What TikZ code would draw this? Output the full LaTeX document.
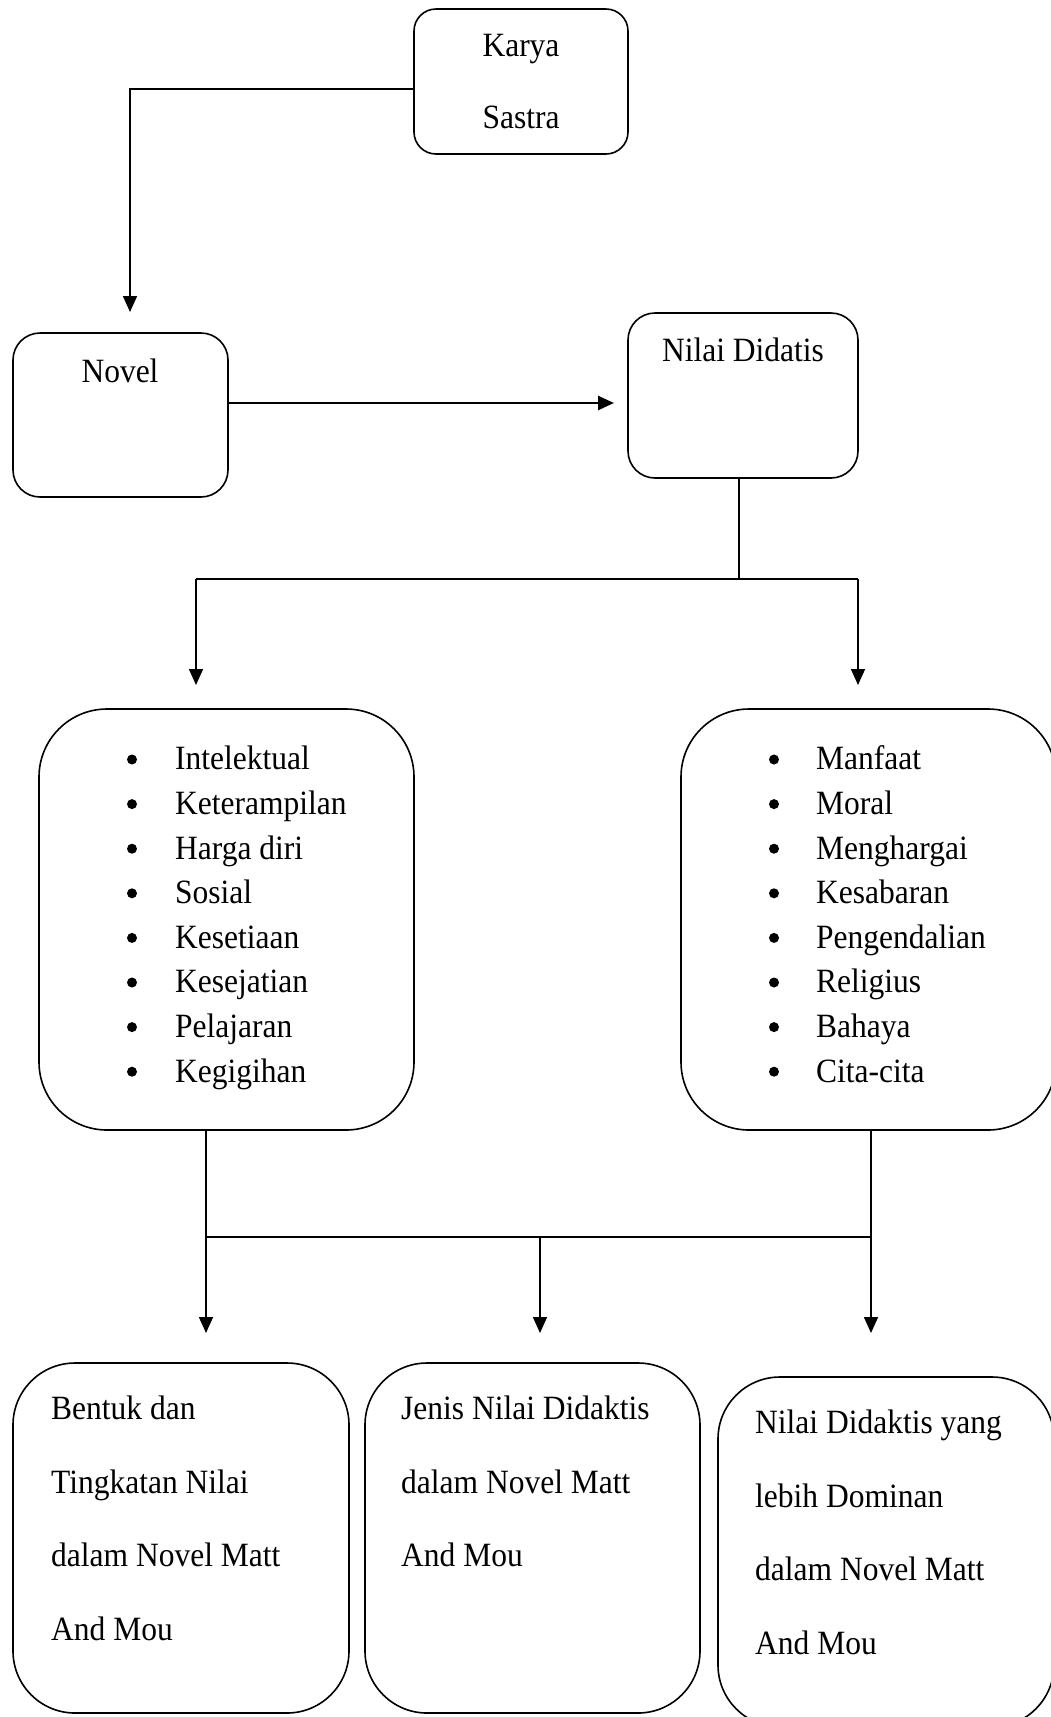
\documentclass[tikz,border=0pt]{standalone}
\usepackage{fontspec}
\setmainfont{Liberation Serif}
\usetikzlibrary{arrows.meta}
\begin{document}
\begin{tikzpicture}[x=1pt,y=-1pt,
  box/.style={draw,line width=1.6pt,rounded corners=#1,inner sep=0pt},
  box/.default=22pt,
  txt/.style={font=\fontsize{31.5}{38}\selectfont,inner sep=0pt,yscale=1.08},
  bul/.style={circle,fill,inner sep=0pt,minimum size=10pt},
  ln/.style={line width=1.6pt},
  thick ln/.style={line width=2.6pt},
  arr/.style={-{Triangle[length=16pt,width=14pt]}}]
\useasboundingbox (0,0) rectangle (1051,1717);
% boxes
\node[box=22pt,minimum width=214pt,minimum height=145pt] (karya) at (521,81.5) {};
\node[box=27pt,minimum width=215pt,minimum height=164pt] (novel) at (120.5,415) {};
\node[box=27pt,minimum width=230pt,minimum height=165pt] (nilai) at (743,395.5) {};
\node[box=68pt,minimum width=375pt,minimum height=421pt] (listL) at (226.5,919.5) {};
\node[box=68pt,minimum width=375pt,minimum height=421pt] (listR) at (868.5,919.5) {};
\node[box=62pt,minimum width=336pt,minimum height=350pt] (b1) at (181,1538) {};
\node[box=62pt,minimum width=335pt,minimum height=350pt] (b2) at (532.5,1538) {};
\node[box=62pt,minimum width=336pt,minimum height=350pt] (b3) at (886,1552) {};
% texts
\node[txt,anchor=mid] (tk1) at (521,54.5) {Karya};
\node[txt,anchor=mid] (tk2) at (521,126.5) {Sastra};
\node[txt,anchor=mid] (tnov) at (120,380.5) {Novel};
\node[txt,anchor=mid] (tnil) at (743,359.5) {Nilai Didatis};
\foreach \t [count=\i] in {Intelektual,Keterampilan,Harga diri,Sosial,Kesetiaan,Kesejatian,Pelajaran,Kegigihan}{
  \node[bul] (bl\i) at (132,{759.5+44.6*(\i-1)}) {};
  \node[txt,anchor=mid west] (il\i) at (175,{767.5+44.6*(\i-1)}) {\t};
}
\foreach \t [count=\i] in {Manfaat,Moral,Menghargai,Kesabaran,Pengendalian,Religius,Bahaya,Cita-cita}{
  \node[bul] (br\i) at (774,{759.5+44.6*(\i-1)}) {};
  \node[txt,anchor=mid west] (ir\i) at (816,{767.5+44.6*(\i-1)}) {\t};
}
\foreach \t [count=\i] in {Bentuk dan,Tingkatan Nilai,dalam Novel Matt,And Mou}{
  \node[txt,anchor=mid west] (p\i) at (51,{1417.5+73.4*(\i-1)}) {\t};
}
\foreach \t [count=\i] in {Jenis Nilai Didaktis,dalam Novel Matt,And Mou}{
  \node[txt,anchor=mid west] (q\i) at (401,{1417.5+73.4*(\i-1)}) {\t};
}
\foreach \t [count=\i] in {Nilai Didaktis yang,lebih Dominan,dalam Novel Matt,And Mou}{
  \node[txt,anchor=mid west] (r\i) at (755,{1431.5+73.4*(\i-1)}) {\t};
}
% connector coordinates
\coordinate (kout) at (karya.west |- 0,89);
\coordinate (novtip) at (130,312);
\coordinate (nout) at (novel.east |- 0,403);
\coordinate (niltip) at (614,403);
\coordinate (nbot) at (739,0 |- nilai.south);
\coordinate (split) at (739,579);
\coordinate (sl) at (196,579);
\coordinate (sr) at (858,579);
\coordinate (tipL) at (196,685);
\coordinate (tipR) at (858,685);
\coordinate (lbot) at (206,0 |- listL.south);
\coordinate (rbot) at (871,0 |- listR.south);
\coordinate (jl) at (206,1237);
\coordinate (jm) at (540,1237);
\coordinate (jr) at (871,1237);
\coordinate (t1) at (206,1333);
\coordinate (t2) at (540,1333);
\coordinate (t3) at (871,1333);
% connectors
\draw[ln,arr] (kout) -| (novtip);
\draw[thick ln,arr] (nout) -- (niltip);
\draw[ln] (nbot) -- (split);
\draw[ln] (sl) -- (sr);
\draw[ln,arr] (sl) -- (tipL);
\draw[ln,arr] (sr) -- (tipR);
\draw[ln] (lbot) -- (jl);
\draw[ln] (rbot) -- (jr);
\draw[thick ln] (jl) -- (jr);
\draw[ln,arr] (jl) -- (t1);
\draw[ln,arr] (jm) -- (t2);
\draw[ln,arr] (jr) -- (t3);
\end{tikzpicture}
\end{document}
